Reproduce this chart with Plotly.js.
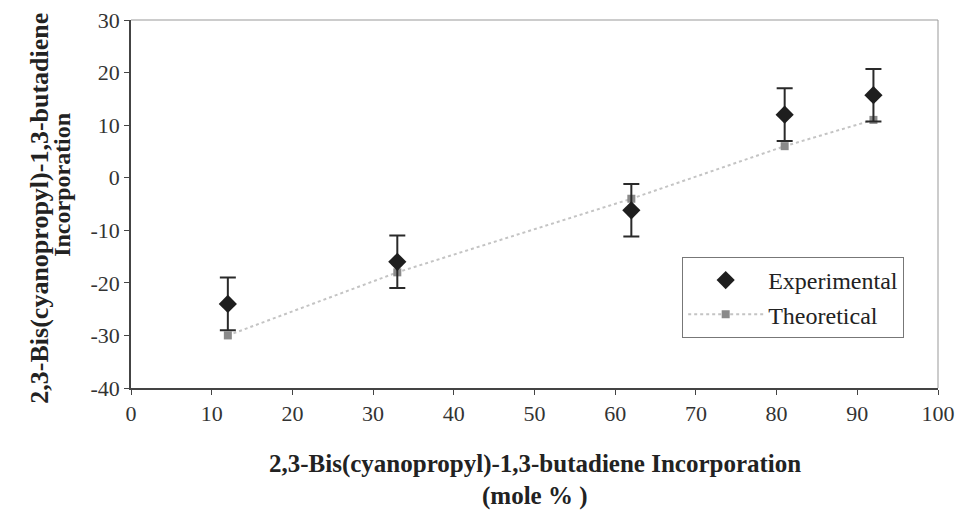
<!DOCTYPE html>
<html><head><meta charset="utf-8">
<script src="https://cdn.plot.ly/plotly-3.0.1.min.js"></script>
<style>body{margin:0;background:#fff}#chart{width:960px;height:513px}</style>
</head><body><div id="chart"></div>
<script>
const xExp = [12, 33, 62, 81, 92];
const yExp = [-24, -16, -6.2, 12, 15.7];
const errExp = [5, 5, 5, 5, 5];
const xTheo = [12, 33, 62, 81, 92];
const yTheo = [-30, -18, -4, 6, 11];
const xTickVals = [0,10,20,30,40,50,60,70,80,90,100];
const xTickText = ['0','10','20','30','40','50','60','70','80','90','100'];
const yTickVals = [-40,-30,-20,-10,0,10,20,30];
const yTickText = ['-40','-30','-20','-10','0','10','20','30'];

const font = '"Liberation Serif", serif';
const traces = [
  {x: xTheo, y: yTheo, name: 'Theoretical', type: 'scatter', mode: 'lines+markers',
   line: {color: '#c4c4c4', width: 2, dash: 'dot'},
   marker: {symbol: 'square', size: 8, color: '#8a8a8a'}},
  {x: xExp, y: yExp, name: 'Experimental', type: 'scatter', mode: 'markers',
   marker: {symbol: 'diamond', size: 14, color: '#1e1e1e'},
   error_y: {type: 'data', array: errExp, visible: true, color: '#2a2a2a', thickness: 2, width: 8}}
];
const layout = {
  width: 960, height: 513,
  margin: {l: 131, r: 22, t: 20, b: 125},
  paper_bgcolor: '#fff', plot_bgcolor: '#fff',
  showlegend: true,
  legend: {x: 0.683, y: 0.356, xanchor: 'left', yanchor: 'top', bgcolor: '#fff',
    bordercolor: '#777', borderwidth: 1, font: {family: font, size: 24, color: '#222'},
    traceorder: 'reversed', itemwidth: 75},
  xaxis: {range: [0, 100], tickvals: xTickVals, ticktext: xTickText, showgrid: false, zeroline: false,
    showline: true, linecolor: '#444', linewidth: 1.5, ticks: 'outside', ticklen: 5, tickcolor: '#444',
    tickfont: {family: font, size: 22, color: '#333'}},
  yaxis: {range: [-40, 30], tickvals: yTickVals, ticktext: yTickText, showgrid: false, zeroline: false,
    showline: true, linecolor: '#444', linewidth: 1.5, ticks: 'outside', ticklen: 5, tickcolor: '#444',
    tickfont: {family: font, size: 22, color: '#333'}},
  shapes: [
    {type: 'line', xref: 'paper', yref: 'paper', x0: 0, x1: 1, y0: 1, y1: 1, line: {color: '#999', width: 1}},
    {type: 'line', xref: 'paper', yref: 'paper', x0: 1, x1: 1, y0: 0, y1: 1, line: {color: '#999', width: 1}}
  ],
  annotations: [
    {text: '<b>2,3-Bis(cyanopropyl)-1,3-butadiene Incorporation</b>', xref: 'paper', yref: 'paper',
     x: 0.5, y: -0.2065, xanchor: 'center', yanchor: 'middle', showarrow: false,
     font: {family: font, size: 25, color: '#222'}},
    {text: '<b>(mole % )</b>', xref: 'paper', yref: 'paper',
     x: 0.5, y: -0.2935, xanchor: 'center', yanchor: 'middle', showarrow: false,
     font: {family: font, size: 25, color: '#222'}},
    {text: '<b>2,3-Bis(cyanopropyl)-1,3-butadiene</b>', xref: 'paper', yref: 'paper',
     x: -0.1128, y: 0.49, xanchor: 'center', yanchor: 'middle', textangle: -90, showarrow: false,
     font: {family: font, size: 26, color: '#222'}},
    {text: '<b>Incorporation</b>', xref: 'paper', yref: 'paper',
     x: -0.0855, y: 0.552, xanchor: 'center', yanchor: 'middle', textangle: -90, showarrow: false,
     font: {family: font, size: 24, color: '#222'}}
  ]
};
Plotly.newPlot('chart', traces, layout, {displayModeBar: false});
</script></body></html>
